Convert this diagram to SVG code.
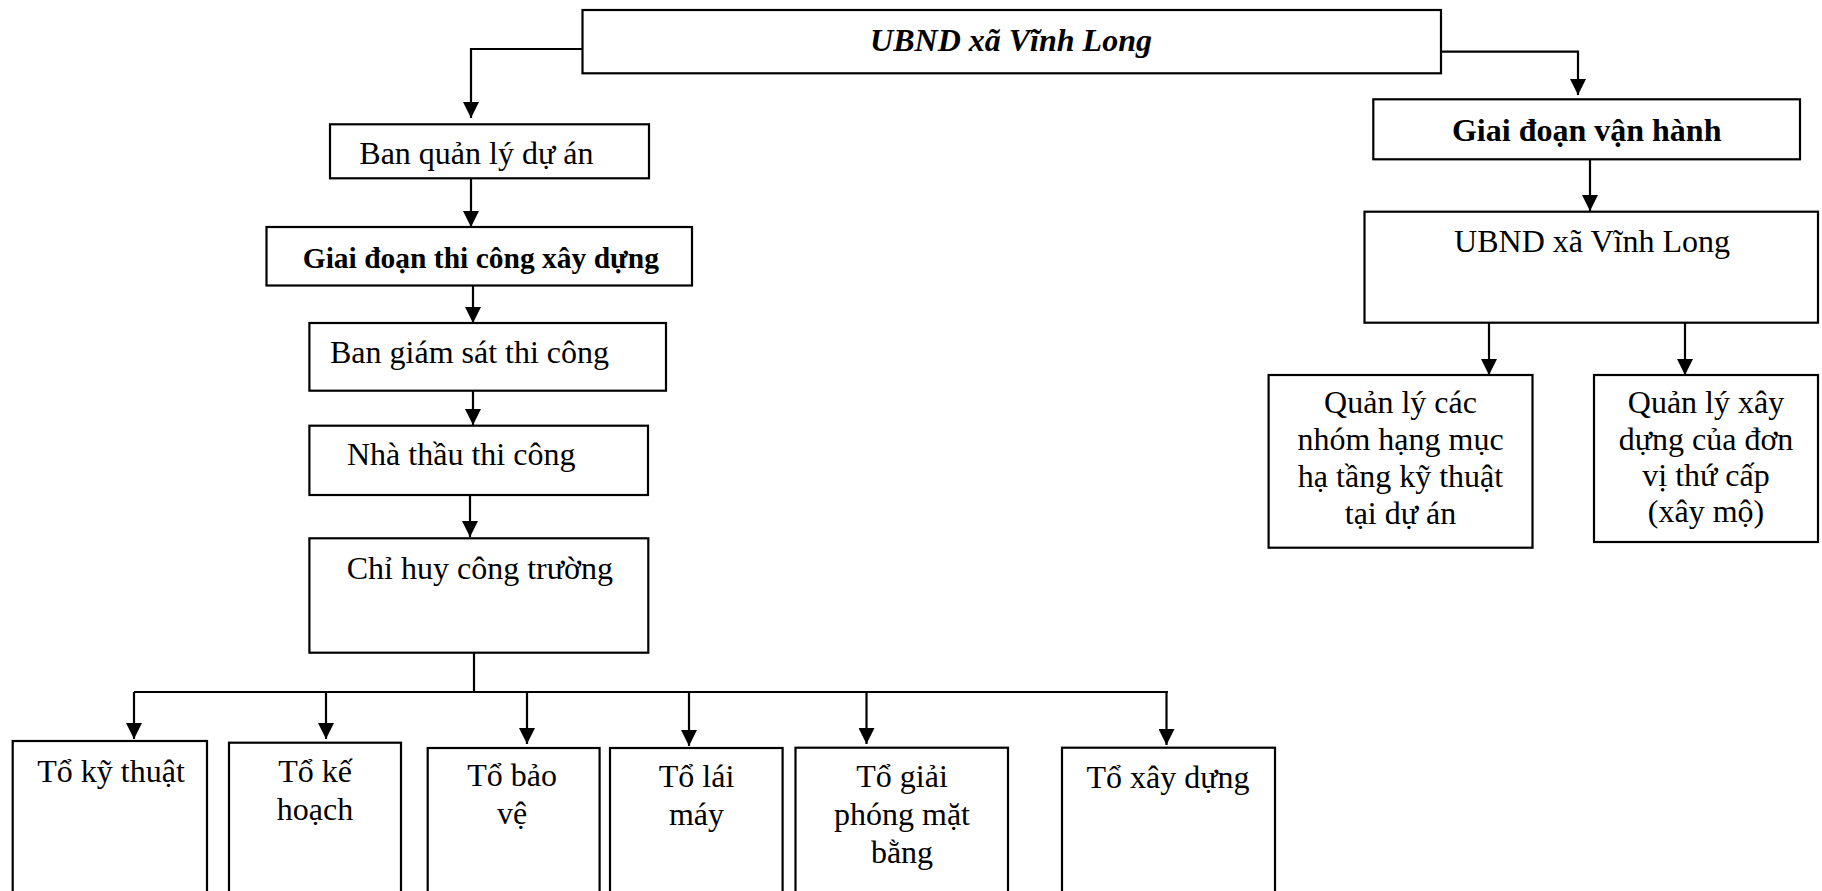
<svg xmlns="http://www.w3.org/2000/svg" width="1822" height="891" viewBox="0 0 1822 891">
<style>
.box{fill:#fff;stroke:#000;stroke-width:2.2}
.t{font-family:"Liberation Serif","Times New Roman",serif;font-size:32px;fill:#000}
.c{text-anchor:middle}
.b{font-weight:bold}
.i{font-style:italic}
.ln{fill:none;stroke:#000;stroke-width:2.2}
</style>
<defs>
<marker id="dn" markerUnits="userSpaceOnUse" markerWidth="16" markerHeight="16" viewBox="0 0 16 16" refX="8" refY="16" orient="0">
<path d="M0,0 L16,0 L8,16 Z" fill="#000"/>
</marker>
</defs>
<g id="connectors">
<path class="ln" d="M582.5,49 H471 V118" marker-end="url(#dn)"/>
<path class="ln" d="M471,178 V227" marker-end="url(#dn)"/>
<path class="ln" d="M473,286 V323" marker-end="url(#dn)"/>
<path class="ln" d="M473,391 V425" marker-end="url(#dn)"/>
<path class="ln" d="M470,495 V537" marker-end="url(#dn)"/>
<path class="ln" d="M474,653 V692"/>
<path class="ln" d="M134,692 H1168"/>
<path class="ln" d="M134,692 V739" marker-end="url(#dn)"/>
<path class="ln" d="M326,692 V739" marker-end="url(#dn)"/>
<path class="ln" d="M527,692 V744" marker-end="url(#dn)"/>
<path class="ln" d="M689,692 V746" marker-end="url(#dn)"/>
<path class="ln" d="M866.5,692 V744" marker-end="url(#dn)"/>
<path class="ln" d="M1166.5,692 V745" marker-end="url(#dn)"/>
<path class="ln" d="M1441,51.7 H1578 V95" marker-end="url(#dn)"/>
<path class="ln" d="M1590,159 V211" marker-end="url(#dn)"/>
<path class="ln" d="M1489,323 V375" marker-end="url(#dn)"/>
<path class="ln" d="M1685,323 V375" marker-end="url(#dn)"/>
</g>
<g id="n-ubnd-top"><rect class="box" x="582.5" y="10" width="858.5" height="63.3"/><text class="t b i c" x="1011" y="51">UBND xã Vĩnh Long</text></g>
<g id="n-bqlda"><rect class="box" x="330" y="124.3" width="319" height="54"/><text class="t" x="359.3" y="164.3">Ban quản lý dự án</text></g>
<g id="n-gdtc"><rect class="box" x="266.5" y="227" width="425.5" height="58.5"/><text class="t b" x="302.7" y="268" style="font-size:29.5px">Giai đoạn thi công xây dựng</text></g>
<g id="n-bgstc"><rect class="box" x="309.4" y="323" width="356.6" height="67.7"/><text class="t" x="330" y="363">Ban giám sát thi công</text></g>
<g id="n-nttc"><rect class="box" x="309.4" y="425.7" width="338.6" height="69.3"/><text class="t" x="347" y="465">Nhà thầu thi công</text></g>
<g id="n-chct"><rect class="box" x="309.4" y="538.3" width="338.9" height="114.4"/><text class="t" x="346.7" y="579.3">Chỉ huy công trường</text></g>
<g id="n-gdvh"><rect class="box" x="1373.3" y="99.3" width="426.7" height="60"/><text class="t b c" x="1586.7" y="140.7">Giai đoạn vận hành</text></g>
<g id="n-ubnd-vh"><rect class="box" x="1364.5" y="211.7" width="453.5" height="111"/><text class="t c" x="1592" y="251.7">UBND xã Vĩnh Long</text></g>
<g id="n-qlhtkt"><rect class="box" x="1268.6" y="375" width="263.9" height="172.7"/><text class="t c" x="1400.5" y="413">Quản lý các</text><text class="t c" x="1400.5" y="450">nhóm hạng mục</text><text class="t c" x="1400.5" y="487">hạ tầng kỹ thuật</text><text class="t c" x="1400.5" y="523.5">tại dự án</text></g>
<g id="n-qlxd"><rect class="box" x="1594" y="375" width="224" height="167"/><text class="t c" x="1706" y="413">Quản lý xây</text><text class="t c" x="1706" y="450">dựng của đơn</text><text class="t c" x="1706" y="486">vị thứ cấp</text><text class="t c" x="1706" y="522">(xây mộ)</text></g>
<g id="n-tkt"><rect class="box" x="12.7" y="741" width="194.3" height="170"/><text class="t c" x="111" y="781.7">Tổ kỹ thuật</text></g>
<g id="n-tkh"><rect class="box" x="229" y="742.7" width="172" height="170"/><text class="t c" x="315" y="781.7">Tổ kế</text><text class="t c" x="315" y="820">hoạch</text></g>
<g id="n-tbv"><rect class="box" x="427.7" y="748" width="171.9" height="170"/><text class="t c" x="512" y="786">Tổ bảo</text><text class="t c" x="512" y="824">vệ</text></g>
<g id="n-tlm"><rect class="box" x="610" y="748" width="172.6" height="170"/><text class="t c" x="696.5" y="787">Tổ lái</text><text class="t c" x="696.5" y="825">máy</text></g>
<g id="n-tgpmb"><rect class="box" x="795.5" y="747.7" width="212.5" height="170"/><text class="t c" x="902" y="787">Tổ giải</text><text class="t c" x="902" y="825">phóng mặt</text><text class="t c" x="902" y="863">bằng</text></g>
<g id="n-txd"><rect class="box" x="1062" y="747.7" width="213" height="170"/><text class="t c" x="1168" y="788">Tổ xây dựng</text></g>
</svg>
